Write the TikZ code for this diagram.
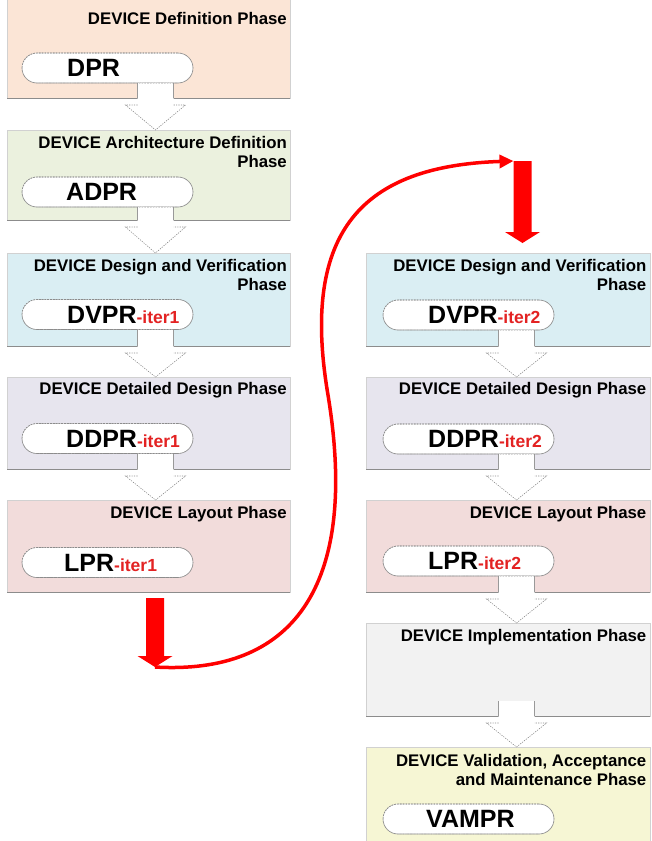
\documentclass[tikz,border=0pt]{standalone}
\usepackage{fontspec}
\setmainfont{Liberation Sans}
\usetikzlibrary{calc,arrows.meta}

\definecolor{cdef}{HTML}{FBE5D6}
\definecolor{carch}{HTML}{EBF1DE}
\definecolor{cdv}{HTML}{DAEEF3}
\definecolor{cdd}{HTML}{E7E5EE}
\definecolor{clay}{HTML}{F2DCDB}
\definecolor{cimpl}{HTML}{F2F2F2}
\definecolor{cvam}{HTML}{F6F6D4}
\definecolor{itred}{HTML}{E32222}
\definecolor{flowred}{HTML}{FF0000}

\tikzset{
  phase/.style={rectangle, draw=black!18, line width=0.8pt, inner sep=0pt,
    outer sep=0pt, anchor=north west, minimum width=283pt},
  ttl/.style={anchor=north east, inner sep=0pt, align=right,
    font=\bfseries\fontsize{16.8}{19.5}\selectfont},
  pill/.style={rectangle, rounded corners=15pt, draw=black!45,
    dash pattern=on 1.6pt off 1.2pt, line width=0.6pt, fill=white,
    minimum width=171pt, minimum height=30pt, inner sep=0pt, outer sep=0pt,
    anchor=west},
  code/.style={anchor=base west, inner sep=0pt,
    font=\bfseries\fontsize{25}{30}\selectfont},
  boxbottom/.style={draw=black!45, line width=1pt},
  shaftline/.style={draw=black!40, line width=0.7pt},
  headline/.style={draw=black!45, line width=0.6pt, dash pattern=on 1.2pt off 1.2pt},
  flow/.style={draw=flowred, line width=3.5pt, -{Triangle[length=14pt,width=13pt]}},
}

\newcommand\iter[1]{{\fontsize{17.5}{20}\selectfont\color{itred}-iter#1}}

% hollow block arrow: #1 shaft top (centre), #2 bottom of source box, #3 top of target box
\newcommand\whitearrow[3]{%
  \fill[white] let \p1=(#1), \p2=(#2), \p3=(#3) in
    (\x1-18pt,\y1) -- (\x1+18pt,\y1) -- (\x1+18pt,\y2-7pt) -- (\x1+30pt,\y2-7pt)
    -- (\x1,\y3) -- (\x1-30pt,\y2-7pt) -- (\x1-18pt,\y2-7pt) -- cycle;
  \draw[shaftline] let \p1=(#1), \p2=(#2) in
    (\x1-18pt,\y1) -- (\x1-18pt,\y2) (\x1+18pt,\y1) -- (\x1+18pt,\y2);
  \draw[headline] let \p1=(#1), \p2=(#2), \p3=(#3) in
    (\x1-18pt,\y2-7pt) -- (\x1-30pt,\y2-7pt) -- (\x1,\y3)
    -- (\x1+30pt,\y2-7pt) -- (\x1+18pt,\y2-7pt);
}

% solid red block arrow: #1 shaft top (centre), #2 tip
\newcommand\redarrow[2]{%
  \fill[flowred] let \p1=(#1), \p2=(#2) in
    (\x1-9pt,\y1) -- (\x1+9pt,\y1) -- (\x1+9pt,\y2+11pt) -- (\x1+17.5pt,\y2+11pt)
    -- (\x1,\y2) -- (\x1-17.5pt,\y2+11pt) -- (\x1-9pt,\y2+11pt) -- cycle;
}

\begin{document}
\begin{tikzpicture}[x=1pt,y=-1pt]
\useasboundingbox (0,0) rectangle (651,841);

% ---------- phase boxes ----------
\node[phase, fill=cdef,  minimum height=100pt] (b1) at (7,-2)  {};
\node[phase, fill=carch, minimum height=90pt]  (b2) at (7,130) {};
\node[phase, fill=cdv,   minimum height=93pt]  (b3) at (7,253) {};
\node[phase, fill=cdd,   minimum height=92pt]  (b4) at (7,377) {};
\node[phase, fill=clay,  minimum height=92pt]  (b5) at (7,500) {};

\node[phase, fill=cdv,   minimum width=284pt, minimum height=93pt]  (r3) at (366,253) {};
\node[phase, fill=cdd,   minimum width=284pt, minimum height=92pt]  (r4) at (366,377) {};
\node[phase, fill=clay,  minimum width=284pt, minimum height=92pt]  (r5) at (366,500) {};
\node[phase, fill=cimpl, minimum width=284pt, minimum height=93pt]  (r6) at (366,623) {};
\node[phase, fill=cvam,  minimum width=284pt, minimum height=100pt] (r7) at (366,747) {};

\foreach \b in {b1,b2,b3,b4,b5,r3,r4,r5,r6}
  \draw[boxbottom] (\b.south west) -- (\b.south east);

% ---------- review pills ----------
\node[pill] (p1) at (22,68)    {};
\node[pill] (p2) at (22,192)   {};
\node[pill] (p3) at (22,314.5) {};
\node[pill] (p4) at (22,438.5) {};
\node[pill] (p5) at (22,562.5) {};
\node[pill] (q3) at (383,315)  {};
\node[pill] (q4) at (383,439)  {};
\node[pill] (q5) at (383,561)  {};
\node[pill] (q7) at (383,819)  {};

% shaft tops of the hollow arrows
\foreach \p in {p1,p2,p3,p4,q3,q4,q5}
  \coordinate (\p-out) at ($(\p.south west)+(133.5,0)$);
\coordinate (r6-out) at ($(r6.south west)+(150.5,-15)$);

% ---------- hollow arrows between phases ----------
\whitearrow{p1-out}{b1.south}{b2.north}
\whitearrow{p2-out}{b2.south}{b3.north}
\whitearrow{p3-out}{b3.south}{b4.north}
\whitearrow{p4-out}{b4.south}{b5.north}
\whitearrow{q3-out}{r3.south}{r4.north}
\whitearrow{q4-out}{r4.south}{r5.north}
\whitearrow{q5-out}{r5.south}{r6.north}
\whitearrow{r6-out}{r6.south}{r7.north}

% redraw pills over the arrow shafts
\foreach \p in {p1,p2,p3,p4,p5,q3,q4,q5,q7}
  \draw[pill, fill=none] (\p.south west) rectangle (\p.north east);

% ---------- phase titles ----------
\node[ttl] (t1) at ($(b1.north east)+(-3,14)$) {DEVICE Definition Phase};
\node[ttl] (t2) at ($(b2.north east)+(-3,6)$)  {DEVICE Architecture Definition\\Phase};
\node[ttl] (t3) at ($(b3.north east)+(-3,6)$)  {DEVICE Design and Verification\\Phase};
\node[ttl] (t4) at ($(b4.north east)+(-3,5)$)  {DEVICE Detailed Design Phase};
\node[ttl] (t5) at ($(b5.north east)+(-3,6)$)  {DEVICE Layout Phase};
\node[ttl] (s3) at ($(r3.north east)+(-3.5,6)$) {DEVICE Design and Verification\\Phase};
\node[ttl] (s4) at ($(r4.north east)+(-3.5,5)$) {DEVICE Detailed Design Phase};
\node[ttl] (s5) at ($(r5.north east)+(-3.5,6)$) {DEVICE Layout Phase};
\node[ttl] (s6) at ($(r6.north east)+(-3.5,6)$) {DEVICE Implementation Phase};
\node[ttl] (s7) at ($(r7.north east)+(-3.5,7)$) {DEVICE Validation, Acceptance\\and Maintenance Phase};

% ---------- review labels ----------
\node[code] (l1) at ($(p1.west)+(45,8.5)$) {DPR};
\node[code] (l2) at ($(p2.west)+(44,8.5)$) {ADPR};
\node[code] (l3) at ($(p3.west)+(45,8.5)$) {DVPR\iter{1}};
\node[code] (l4) at ($(p4.west)+(44,8.5)$) {DDPR\iter{1}};
\node[code] (l5) at ($(p5.west)+(42,8.5)$) {LPR\iter{1}};
\node[code] (m3) at ($(q3.west)+(45,8.5)$) {DVPR\iter{2}};
\node[code] (m4) at ($(q4.west)+(45,8.5)$) {DDPR\iter{2}};
\node[code] (m5) at ($(q5.west)+(45,8.5)$) {LPR\iter{2}};
\node[code] (m7) at ($(q7.west)+(43,8.5)$) {VAMPR};

% ---------- second iteration loop ----------
\coordinate (rLtop) at ($(b5.south west)+(148,6)$);
\coordinate (rLtip) at ($(rLtop)+(0,69)$);
\coordinate (rRtip) at ($(r3.north west)+(156.5,-10)$);
\coordinate (rRtop) at ($(rRtip)+(0,-82)$);
\coordinate (rRcorner) at ($(rRtop)+(-9,0)$);
\coordinate (bend) at (328,395);

\redarrow{rLtop}{rLtip}
\redarrow{rRtop}{rRtip}
\draw[flow] (rLtip) .. controls +(135,8) and +(32,195) .. (bend)
  .. controls +(-28,-165) and +(-150,5) .. (rRcorner);
\end{tikzpicture}
\end{document}
